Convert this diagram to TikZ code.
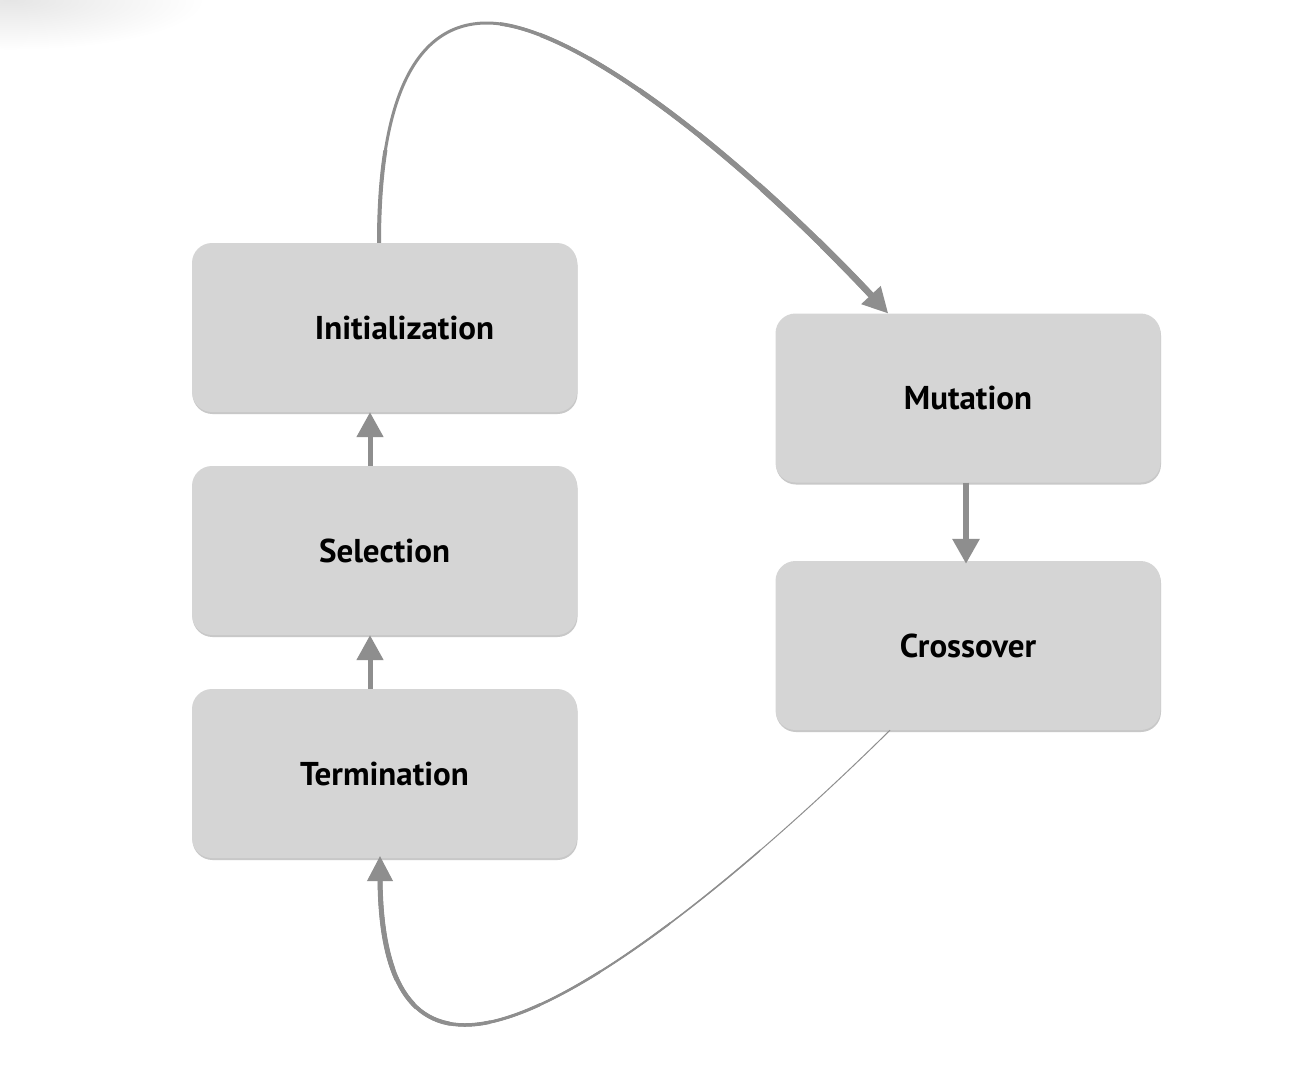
\documentclass[tikz,border=0pt]{standalone}
\usepackage{fontspec}
\setmainfont{PT Sans}
\usetikzlibrary{arrows.meta,calc,shadows}
\definecolor{boxfill}{RGB}{213,213,213}
\definecolor{conncol}{RGB}{142,142,142}
\begin{document}
\begin{tikzpicture}[x=1pt,y=-1pt,
  box/.style={draw=none, fill=boxfill, rounded corners=20pt,
    minimum width=385pt, minimum height=169pt, inner sep=0pt,
    font=\fontsize{33}{36}\selectfont\bfseries, text=black,
    drop shadow={shadow xshift=0.5pt, shadow yshift=-2pt, opacity=0.3, fill=black!70}},
  conn/.style={draw=conncol, line cap=butt},
  tipend/.style={-{Triangle[width=26pt,length=25pt]}},
]
\useasboundingbox (0,0) rectangle (1308,1076);
\fill[white] (0,0) rectangle (1308,1076);
\begin{scope}
  \clip (0,0) rectangle (1308,1076);
  \shade[inner color=black!10, outer color=white] (10,0) ellipse (195 and 50);
\end{scope}

% boxes
\node[box] (init)  at (384.5,327.5) {\hspace*{40pt}Initialization};
\node[box] (sel)   at (384.5,550.5) {Selection};
\node[box] (term)  at (384.5,773.5) {Termination};
\node[box] (mut)   at (968,398)     {Mutation};
\node[box] (cross) at (968,645.5)   {Crossover};

% straight arrows
\draw[conn, line width=5pt, tipend] ([xshift=-14.5pt]sel.north) -- ([xshift=-14.5pt]init.south);
\draw[conn, line width=5pt, tipend] ([xshift=-14.5pt]term.north) -- ([xshift=-14.5pt]sel.south);
\draw[conn, line width=6pt, tipend] ([xshift=-2pt]mut.south) -- ([xshift=-2pt,yshift=-3pt]cross.north);

% top curve: Initialization -> Mutation (tapered)
\coordinate (peak) at (487,23);
\draw[conn, line width=3pt, tipend] ([xshift=-5.5pt]init.north)
  .. controls (379,110) and (410,23) .. (peak)
  .. controls (575,23) and (745,160) .. ([xshift=-80pt]mut.north);
\begin{scope}
  \clip (0,150) rectangle (400,1076);
  \draw[conn, line width=4pt] ([xshift=-5.5pt]init.north)
    .. controls (379,110) and (410,23) .. (peak);
\end{scope}
\foreach \xc/\w in {500/3.5,540/4,590/4.5,640/5,700/5.5,760/6,820/6.5}{
  \begin{scope}
    \clip (\xc,0) rectangle (1308,1076);
    \draw[conn, line width=\w pt, shorten >=18pt] (peak)
      .. controls (575,23) and (745,160) .. ([xshift=-80pt]mut.north);
  \end{scope}
}

% bottom curve: Crossover -> Termination (tapered)
\coordinate (low) at (465,1025);
\draw[conn, line width=1pt, tipend] ([xshift=-78pt]cross.south)
  .. controls (740,878) and (560,1025) .. (low)
  .. controls (400,1025) and (380,960) .. ([xshift=-4.5pt,yshift=2pt]term.south);
\foreach \xc/\w in {760/1.5,670/2,600/2.5,540/3,490/3.5,450/4,415/4.5,395/5}{
  \begin{scope}
    \clip (0,0) rectangle (\xc,1076);
    \draw[conn, line width=\w pt, shorten >=18pt] ([xshift=-78pt]cross.south)
      .. controls (740,878) and (560,1025) .. (low)
      .. controls (400,1025) and (380,960) .. ([xshift=-4.5pt,yshift=2pt]term.south);
  \end{scope}
}
\end{tikzpicture}
\end{document}
